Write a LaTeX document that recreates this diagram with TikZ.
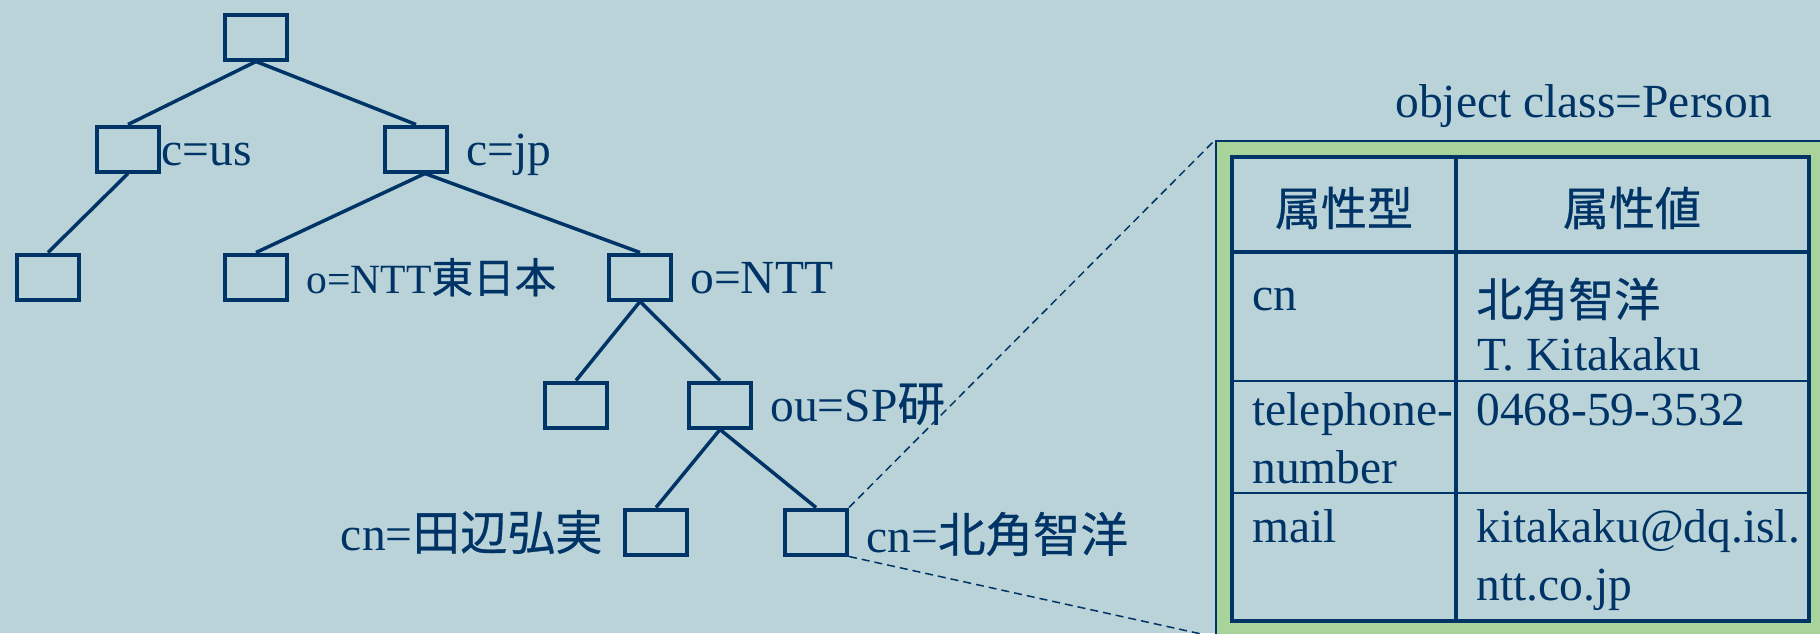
\documentclass[tikz,border=0pt]{standalone}
\usepackage{fontspec}
\setmainfont{Liberation Serif}
\newfontfamily\cjk{Noto Sans CJK JP}[FakeBold=0.6]
\definecolor{navy}{RGB}{0,51,102}
\definecolor{slide}{RGB}{185,211,216}
\definecolor{leaf}{RGB}{168,211,154}
\tikzset{
  entry/.style={shape=rectangle, draw=navy, line width=2pt, minimum width=31pt, minimum height=22.5pt, inner sep=0pt},
  tag/.style={inner sep=0pt, text height=20pt, text depth=4pt},
  small/.style={font=\fontsize{20.8}{25}\selectfont},
  link/.style={-, line width=1.75pt, draw=navy},
  zoomed/.style={-, line width=0.75pt, draw=navy, dash pattern=on 4pt off 2.5pt},
  panel/.style={shape=rectangle, fill=leaf, draw=navy, line width=1pt, minimum width=307pt, minimum height=247.5pt},
  rule/.style={draw=navy, line width=2pt},
  thinrule/.style={draw=navy, line width=1.2pt},
  cell/.style={inner sep=0pt, anchor=base west},
  head/.style={inner sep=0pt, font=\cjk\fontsize{23}{28}\selectfont},
}
\begin{document}
\begin{tikzpicture}[x=0.5pt, y=-0.5pt, text=navy, font=\fontsize{23.75}{29}\selectfont, label distance=8.5pt]
\fill[slide] (0,0) rectangle (1820,633);
\useasboundingbox (0,0) rectangle (1820,633);
% directory tree
\node[entry] (root) at (256,37) {};
\node[entry, label={[tag, xshift=-8.5pt]right:c=us}] (us) at (128,149) {};
\node[entry, label={[tag]right:c=jp}] (jp) at (416,149) {};
\node[entry] (usorg) at (48,277) {};
\node[entry, label={[tag, small]right:o=NTT{\cjk 東日本}}] (east) at (256,277) {};
\node[entry, label={[tag]right:o=NTT}] (ntt) at (640,277) {};
\node[entry] (nttunit) at (576,405) {};
\node[entry, label={[tag]right:ou=SP{\cjk 研}}] (splab) at (720,405) {};
\node[entry, label={[tag, yshift=-1pt, xshift=-1.5pt]left:cn={\cjk 田辺弘実}}] (tanabe) at (656,532) {};
\node[entry, label={[tag, yshift=-2pt]right:cn={\cjk 北角智洋}}] (kitakaku) at (816,532) {};
\path [link] (root.south) edge (us.north);
\path [link] (root.south) edge (jp.north);
\path [link] (us.south) edge (usorg.north);
\path [link] ([xshift=4.5pt]jp.south) edge (east.north);
\path [link] ([xshift=4.5pt]jp.south) edge (ntt.north);
\path [link] (ntt.south) edge (nttunit.north);
\path [link] (ntt.south) edge (splab.north);
\path [link] (splab.south) edge (tanabe.north);
\path [link] (splab.south) edge (kitakaku.north);
% entry card
\node[panel] (card) at (1523,388.5) {};
\path [zoomed] (kitakaku.north east) edge (card.north west);
\path [zoomed] (kitakaku.south east) edge (card.south west);
\node[cell] (cls) at (1395,117) {object class=Person};
\draw[rule, fill=slide] (1232,157) rectangle (1809,621);
\draw[rule] (1232,252) -- (1809,252);
\draw[rule] (1456,157) -- (1456,621);
\draw[thinrule] (1232,381) -- (1809,381);
\draw[thinrule] (1232,493) -- (1809,493);
\node[head] (hdtype) at (1344,208) {属性型};
\node[head] (hdvalue) at (1632,208) {属性値};
\node[cell] (cnkey) at (1252,310) {cn};
\node[head, anchor=west] (cnval) at (1476,299) {北角智洋};
\node[cell] (cnroman) at (1477,370) {T. Kitakaku};
\node[cell] (telkey) at (1252,425) {telephone-};
\node[cell] (telkey2) at (1252,483) {number};
\node[cell] (telval) at (1476,425) {0468-59-3532};
\node[cell] (mailkey) at (1252,542) {mail};
\node[cell] (mailval) at (1476,542) {kitakaku@dq.isl.};
\node[cell] (mailval2) at (1476,600) {ntt.co.jp};
\end{tikzpicture}
\end{document}
